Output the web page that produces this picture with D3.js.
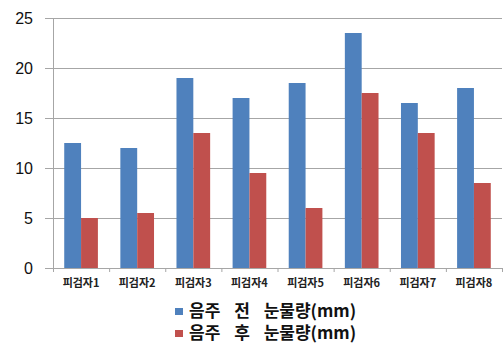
<!DOCTYPE html>
<html>
<head>
<meta charset="utf-8">
<script src="https://cdn.jsdelivr.net/npm/d3@7"></script>
<style>
body { margin: 0; background: #fff; }
</style>
</head>
<body>
<svg id="chart" width="503" height="345"></svg>
<script>
var categories = ["피검자1", "피검자2", "피검자3", "피검자4", "피검자5", "피검자6", "피검자7", "피검자8"];
var seriesNames = ["음주 전 눈물량(mm)", "음주 후 눈물량(mm)"];
var before = [12.5, 12, 19, 17, 18.5, 23.5, 16.5, 18];
var after = [5, 5.5, 13.5, 9.5, 6, 17.5, 13.5, 8.5];
var yTicks = [0, 5, 10, 15, 20, 25];

var colors = ["#4F81BD", "#C0504D"];

var svg = d3.select("#chart"),
	plotLeft = 53,
	plotRight = 502,
	plotTop = 18,
	plotBottom = 268;

var x0 = d3.scaleBand().domain(categories).range([plotLeft, plotRight]).paddingInner(0.4).paddingOuter(0.2);
var x1 = d3.scaleBand().domain([0, 1]).range([0, x0.bandwidth()]);
var y = d3.scaleLinear().domain([0, 25]).range([plotBottom, plotTop]);

// gridlines with short ticks to the left
svg.append("g")
	.selectAll("line")
	.data(yTicks)
	.enter().append("line")
	.attr("x1", plotLeft - 8)
	.attr("x2", plotRight)
	.attr("y1", function(d) { return y(d) + 0.5; })
	.attr("y2", function(d) { return y(d) + 0.5; })
	.attr("stroke", "#a6a6a6")
	.attr("stroke-width", 1);

svg.append("g")
	.selectAll("text")
	.data(yTicks)
	.enter().append("text")
	.attr("x", 33)
	.attr("y", function(d) { return y(d); })
	.attr("dy", "0.36em")
	.attr("text-anchor", "end")
	.attr("font-family", "Liberation Sans, Arial, sans-serif")
	.attr("font-size", "16px")
	.attr("fill", "#111")
	.text(function(d) { return d; });

// bars
var data = categories.map(function(c, i) { return {c: c, v: [before[i], after[i]]}; });
var grp = svg.append("g")
	.selectAll("g")
	.data(data)
	.enter().append("g")
	.attr("transform", function(d) { return "translate(" + x0(d.c) + ",0)"; });

grp.selectAll("rect")
	.data(function(d) { return d.v; })
	.enter().append("rect")
	.attr("x", function(d, i) { return x1(i); })
	.attr("y", function(d) { return y(d); })
	.attr("width", x1.bandwidth())
	.attr("height", function(d) { return y(0) - y(d); })
	.attr("fill", function(d, i) { return colors[i]; });

// y axis line
svg.append("line")
	.attr("x1", plotLeft + 0.5).attr("x2", plotLeft + 0.5)
	.attr("y1", plotTop).attr("y2", plotBottom + 4)
	.attr("stroke", "#a6a6a6");

// x axis ticks between categories
var step = x0.step();
svg.append("g")
	.selectAll("line")
	.data(d3.range(categories.length + 1))
	.enter().append("line")
	.attr("x1", function(d) { return plotLeft + d * step + 0.5; })
	.attr("x2", function(d) { return plotLeft + d * step + 0.5; })
	.attr("y1", plotBottom)
	.attr("y2", plotBottom + 4)
	.attr("stroke", "#a6a6a6");

svg.append("g")
	.selectAll("text")
	.data(categories)
	.enter().append("text")
	.attr("x", function(d) { return x0(d) + x0.bandwidth() / 2; })
	.attr("y", 287)
	.attr("text-anchor", "middle")
	.attr("font-family", "Noto Sans CJK KR, sans-serif")
	.attr("font-size", "11px")
	.attr("font-weight", "bold")
	.attr("fill", "#222")
	.text(function(d) { return d; });

// legend
var leg = svg.append("g")
	.selectAll("g")
	.data(seriesNames)
	.enter().append("g")
	.attr("transform", function(d, i) { return "translate(175," + (308 + i * 22) + ")"; });

leg.append("rect")
	.attr("width", 8)
	.attr("height", 7)
	.attr("fill", function(d, i) { return colors[i]; });

leg.append("text")
	.attr("x", 14)
	.attr("y", 9)
	.attr("font-family", "Noto Sans CJK KR, sans-serif")
	.attr("font-size", "17px")
	.attr("font-weight", "bold")
	.attr("word-spacing", "10px")
	.attr("fill", "#111")
	.text(function(d) { return d; });
</script>
</body>
</html>
